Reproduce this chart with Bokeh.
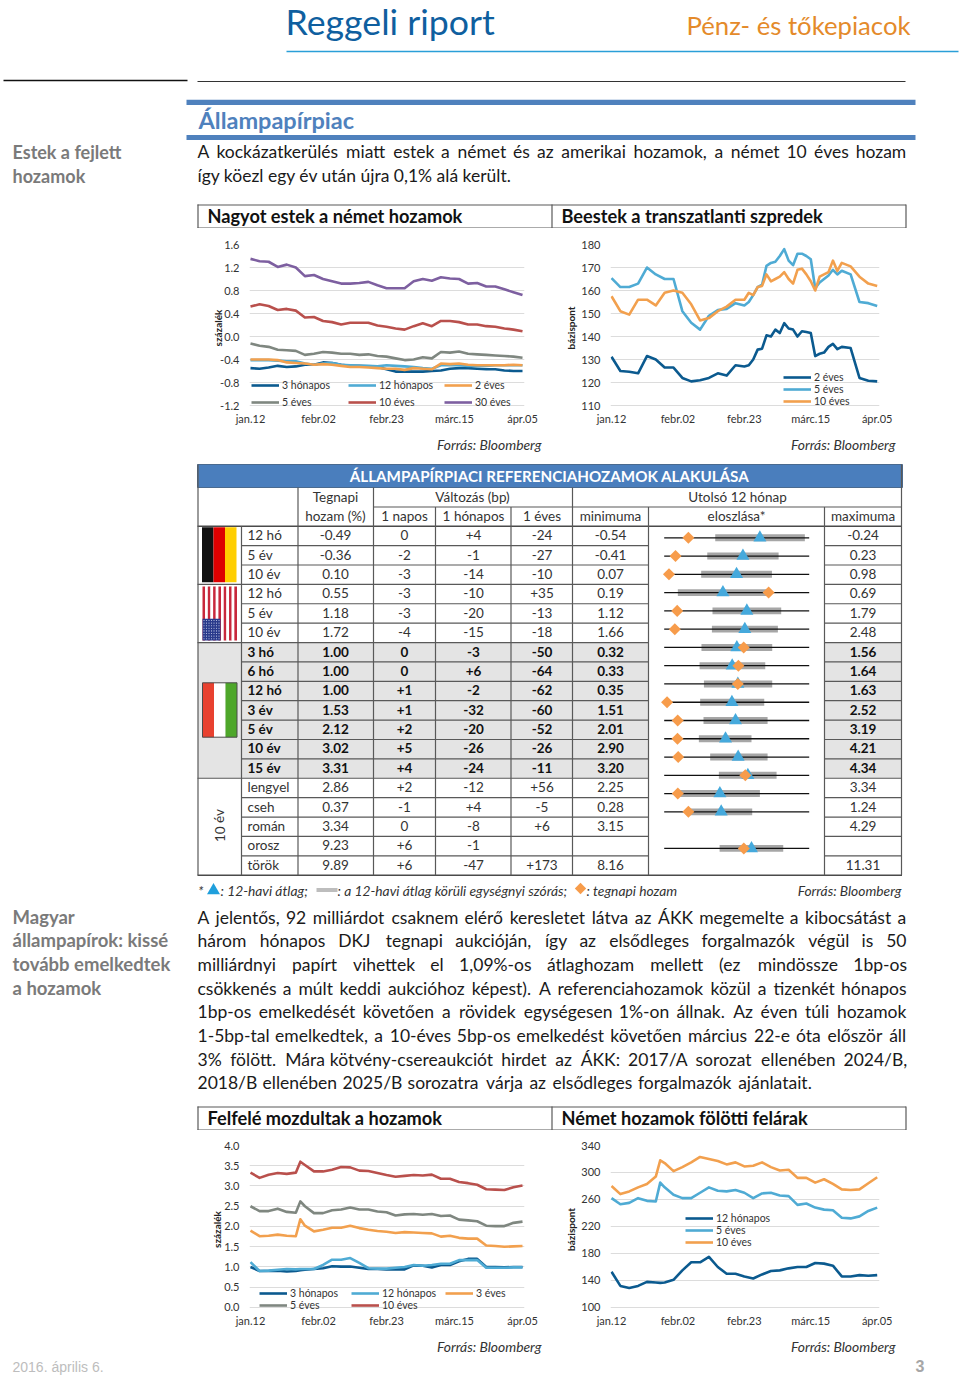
from bokeh.plotting import figure
from bokeh.models import (Range1d, FixedTicker, Legend, LegendItem, BoxAnnotation, Spacer)
from bokeh.layouts import column, row
from bokeh.core.properties import value
from bokeh.embed import file_html
from bokeh.resources import INLINE

FONT = "Lato"
X_TICKS = [0, 15, 30, 45, 60]
X_LABELS = ["jan.12", "febr.02", "febr.23", "márc.15", "ápr.05"]

# ------- chart data -------
DAYS_A = list(range(0, 61, 2))
DAYS_B = [0, 2, 4, 6, 8, 10, 11] + list(range(12, 61, 2))
DAYS_C = list(range(0, 29, 2)) + list(range(30, 53)) + [54, 56, 58, 60]

de_3m = [-.55,-.56,-.54,-.51,-.53,-.52,-.49,-.49,-.45,-.46,-.49,-.51,-.51,-.52,-.53,-.57,-.61,-.61,-.61,-.61,-.60,-.59,-.56,-.55,-.55,-.56,-.57,-.57,-.59,-.60,-.60]
de_12m = [-.41,-.41,-.41,-.42,-.43,-.43,-.47,-.49,-.47,-.46,-.49,-.50,-.51,-.51,-.52,-.50,-.51,-.52,-.53,-.55,-.56,-.50,-.50,-.50,-.51,-.51,-.51,-.50,-.50,-.50,-.50]
de_2y = [-.40,-.40,-.40,-.41,-.45,-.46,-.47,-.49,-.48,-.49,-.51,-.53,-.53,-.54,-.55,-.56,-.56,-.58,-.55,-.56,-.57,-.47,-.48,-.47,-.49,-.50,-.50,-.50,-.50,-.49,-.50]
de_5y = [-.12,-.16,-.18,-.23,-.24,-.25,-.32,-.30,-.27,-.28,-.30,-.30,-.32,-.31,-.34,-.35,-.38,-.41,-.40,-.36,-.38,-.27,-.28,-.26,-.30,-.31,-.32,-.33,-.34,-.35,-.37]
de_10y = [.52,.56,.53,.46,.48,.45,.33,.34,.27,.25,.21,.24,.24,.24,.19,.17,.14,.12,.18,.23,.18,.27,.27,.25,.21,.21,.18,.17,.14,.12,.09]
de_30y = [1.35,1.31,1.30,1.21,1.25,1.20,1.05,1.07,1.00,.96,.92,.92,.93,.95,.89,.84,.84,.84,.96,1.0,.97,1.03,1.01,1.0,.92,.93,.87,.87,.82,.77,.72]

sp_2y = [131.2,125,124.7,124,131.5,130,126.5,126.5,122,120.5,121,122,124,123,127.5,
         127,127.5,130,134.3,134.7,140.5,140,143,141.5,145.8,143.5,143,140,142.3,142,141.5,131.5,132.5,133,135.5,136.8,134.5,135.5,
         135,122,120.8,120.5]
sp_5y = [165.4,161.5,161.5,163,170,167,165,165,151,146,143,149,151.5,152,154.5,
         153.5,155,158,161.5,162.5,170.7,172,172.5,175,178,173,171,176,176,175,173.6,161,163.5,165,166.5,169,167,168.6,
         167,155,154.5,153.3]
sp_10y = [157.5,151,149.5,156,156,153.5,159,160,159,154,147,148,151,153,156,
          156,159,158,161.5,162,167,164,165,166,168,165,163,169,169.5,167,164,160,166,167,168,173,168.5,172,
          170.5,166,163,162]

hu_3m = [1.0,.90,.90,.91,.89,.90,.92,.93,.95,.97,1.02,1.01,1.01,.98,.95,.95,.94,.94,.94,1.04,1.03,.99,1.05,1.05,1.14,1.20,1.20,1.0,1.0,.99,1.0,1.0]
hu_12m = [1.12,.90,.91,.93,.95,.94,.95,.95,.95,1.05,1.18,1.18,1.22,1.10,.97,.96,.96,.98,1.0,1.05,1.03,1.05,1.08,1.08,1.17,1.17,1.17,.98,.98,.98,.99,.99]
hu_3y = [1.9,1.76,1.77,1.80,1.77,1.76,2.18,2.02,1.88,1.92,1.97,1.97,2.02,1.96,1.92,1.89,1.87,1.84,1.86,1.85,1.84,1.83,1.75,1.77,1.72,1.70,1.70,1.53,1.52,1.50,1.51,1.52]
hu_5y = [2.5,2.38,2.38,2.44,2.36,2.34,2.62,2.50,2.33,2.33,2.40,2.42,2.47,2.42,2.42,2.37,2.35,2.27,2.30,2.31,2.29,2.31,2.26,2.27,2.17,2.15,2.13,2.02,2.01,2.01,2.09,2.12]
hu_10y = [3.33,3.2,3.28,3.32,3.30,3.33,3.6,3.52,3.36,3.36,3.40,3.47,3.46,3.38,3.37,3.32,3.27,3.23,3.25,3.27,3.26,3.28,3.18,3.18,3.10,3.07,3.03,2.92,2.91,2.90,2.97,3.01]

pr_12m = [153,132,129,132,138,137,136.5,137,141,155,167,167,175,160,150,150,146,143,149,154,155,158,160,160,166,165,162,146,146,148,147,148]
pr_5y = [262,253,255,262,258,257,285,278,267,262,262,270,278,273,272,274,270,262,269,270,266,265,252,254,248,245,244,233,232,235,243,248]
pr_10y = [280,268,272,278,283,294,318,314,302,308,315,323,320,317,312,315,309,310,315,308,303,304,292,292,285,290,283,275,274,275,284,293]

C_DARK, C_LIGHT, C_ORANGE, C_GRAY, C_RED, C_PURPLE = "#0b5a8f", "#4fabd4", "#f2a04e", "#7f8780", "#b9504c", "#7d5fa0"

# ------- table data -------
table_labels = ["12 hó","5 év","10 év","12 hó","5 év","10 év","3 hó","6 hó","12 hó","3 év","5 év","10 év","15 év","lengyel","cseh","román","orosz","török"]
table_yield = [-0.49,-0.36,0.10,0.55,1.18,1.72,1.00,1.00,1.00,1.53,2.12,3.02,3.31,2.86,0.37,3.34,9.23,9.89]
table_1d = ["0","-2","-3","-3","-3","-4","0","0","+1","+1","+2","+5","+4","+2","-1","0","+6","+6"]
table_1m = ["+4","-1","-14","-10","-20","-15","-3","+6","-2","-32","-20","-26","-24","-12","+4","-8","-1","-47"]
table_1y = ["-24","-27","-10","+35","-13","-18","-50","-64","-62","-60","-52","-26","-11","+56","-5","+6","","+173"]
table_min = [-0.54,-0.41,0.07,0.19,1.12,1.66,0.32,0.33,0.35,1.51,2.01,2.90,3.20,2.25,0.28,3.15,None,8.16]
table_max = [-0.24,0.23,0.98,0.69,1.79,2.48,1.56,1.64,1.63,2.52,3.19,4.21,4.34,3.34,1.24,4.29,None,11.31]
# 12-month mean and mean +/- one st.dev, as shares of each row's min-max span
dist_low = [.352,.297,.255,.094,.333,.329,.257,.244,.274,.248,.271,.239,.317,.377,.090,.170,None,.382]
dist_high = [.970,.789,.743,.712,.807,.784,.745,.697,.745,.690,.713,.602,.713,.775,.660,.607,None,.821]
dist_mean = [.660,.543,.499,.405,.570,.556,.501,.469,.508,.467,.492,.423,.510,.577,.384,.393,None,.602]
BOLD_ROWS = range(6, 13)

intro_lines = ["A kockázatkerülés miatt estek a német és az amerikai hozamok, a német 10 éves hozam",
               "így köezl egy év után újra 0,1% alá került."]
body_lines = ["A jelentős, 92 milliárdot csaknem elérő keresletet látva az ÁKK megemelte a kibocsátást a",
              "három hónapos DKJ tegnapi aukcióján, így az elsődleges forgalmazók végül is 50",
              "milliárdnyi papírt vihettek el 1,09%-os átlaghozam mellett (ez mindössze 1bp-os",
              "csökkenés a múlt keddi aukcióhoz képest). A referenciahozamok közül a tizenkét hónapos",
              "1bp-os emelkedését követően a rövidek egységesen 1%-on állnak. Az éven túli hozamok",
              "1-5bp-tal emelkedtek, a 10-éves 5bp-os emelkedést követően március 22-e óta először áll",
              "3% fölött. Mára kötvény-csereaukciót hirdet az ÁKK: 2017/A sorozat ellenében 2024/B,",
              "2018/B ellenében 2025/B sorozatra várja az elsődleges forgalmazók ajánlatait."]

# ------- helpers -------
W_EM = dict(a=.51,b=.56,c=.47,d=.56,e=.52,f=.33,g=.50,h=.55,i=.24,j=.24,k=.50,l=.24,m=.82,n=.55,o=.57,p=.56,q=.56,r=.37,s=.43,t=.35,u=.55,v=.49,w=.74,x=.48,y=.49,z=.45)
def word_w(w, size):
    t = 0
    for ch in w:
        c = "aeiouo"["áéíóúő".index(ch)] if ch in "áéíóúő" else ("u" if ch in "üű" else ("o" if ch == "ö" else ch))
        if c in W_EM: t += W_EM[c]
        elif c.isdigit() or c == "/": t += .58 if c != "/" else .38
        elif c in ",.:": t += .24
        elif c in "-()": t += .34
        elif c == "%": t += .80
        else: t += .66
    return t * size

def page_fig(h, y0):
    p = figure(width=960, height=h, x_range=Range1d(0, 960), y_range=Range1d(y0 + h, y0), min_border=0,
               toolbar_location=None, output_backend="svg", x_axis_location=None, y_axis_location=None,
               outline_line_color=None)
    p.grid.visible = False
    p.background_fill_alpha = 0
    return p

def txt(p, x, y, s, size, color="#262626", align="left", bold=False, italic=False, font=FONT, angle=0):
    style = "bold italic" if bold and italic else "bold" if bold else "italic" if italic else "normal"
    p.text(x=[x], y=[y - 1], text=[s], text_font=value(font), text_font_size=f"{size}px", text_color=color,
           text_align=align, text_baseline="middle", text_font_style=style, angle=angle)

def just(p, line, y, left, right, size):
    words = line.split(" ")
    ws = [word_w(w, size) for w in words]
    gap = (right - left - sum(ws)) / (len(words) - 1)
    x = left
    for w, wd in zip(words, ws):
        txt(p, x, y, w, size, "#1a1a1a")
        x += wd + gap

def hl(p, x0, x1, y, c="#595959", w=1.2):
    p.segment(x0=[x0], x1=[x1], y0=[y], y1=[y], line_color=c, line_width=w)

def vl(p, x, y0, y1, c="#595959", w=1.2):
    p.segment(x0=[x], x1=[x], y0=[y0], y1=[y1], line_color=c, line_width=w)

def chart(w, h, left, right, top, bottom, xr, yr, ticks, ylabel, series, days, legends, boxleft, fmt, spacing, lab_off):
    p = figure(width=w, height=h, x_range=Range1d(*xr), y_range=Range1d(*yr),
               min_border_left=left, min_border_right=right, min_border_top=top, min_border_bottom=bottom,
               toolbar_location=None, output_backend="svg", outline_line_color=None)
    p.background_fill_alpha = 0
    p.xgrid.visible = False
    p.ygrid.grid_line_color = "#dcdcdc"
    p.ygrid.ticker = FixedTicker(ticks=ticks)
    p.yaxis.ticker = FixedTicker(ticks=ticks)
    p.yaxis.major_label_overrides = {t: fmt.format(t) for t in ticks}
    p.xaxis.ticker = FixedTicker(ticks=X_TICKS)
    p.xaxis.major_label_overrides = dict(zip(X_TICKS, X_LABELS))
    for ax in (p.xaxis[0], p.yaxis[0]):
        ax.axis_line_color = None
        ax.major_tick_line_color = None
        ax.minor_tick_line_color = None
        ax.major_tick_out = 0
        ax.minor_tick_out = 0
        ax.major_label_text_font = FONT
        ax.major_label_text_font_size = "11px"
        ax.major_label_text_color = "#333333"
    p.xaxis.major_label_standoff = 0
    p.yaxis.major_label_standoff = 10
    p.yaxis.axis_label = ylabel
    p.yaxis.axis_label_text_font = FONT
    p.yaxis.axis_label_text_font_size = "10px"
    p.yaxis.axis_label_text_font_style = "bold"
    p.yaxis.axis_label_text_color = "#222222"
    p.yaxis.axis_label_standoff = lab_off
    rs = {}
    for name, vals, col in series:
        rs[name] = p.line(days, vals, line_color=col, line_width=2.6, line_join="round")
    for names, loc in legends:
        lg = Legend(items=[LegendItem(label=n, renderers=[rs[n]]) for n in names], location=loc,
                    padding=0, margin=0, spacing=spacing, glyph_width=28, glyph_height=12, label_height=12,
                    label_standoff=3, label_text_font=FONT, label_text_font_size="10.5px",
                    label_text_color="#333333", border_line_color=None, background_fill_alpha=0)
        p.add_layout(lg, "center")
    p.add_layout(BoxAnnotation(left=boxleft, right=w - 0.5, top=0.5, bottom=h - 0.5, left_units="canvas",
                               right_units="canvas", top_units="canvas", bottom_units="canvas", fill_alpha=0,
                               line_color="#595959", line_width=1.2))
    return p

CH = 207
c1 = chart(355, CH, 52, 28, 16, 24, (-0.22, 60.44), (-1.304, 1.6), [-1.2,-.8,-.4,0,.4,.8,1.2,1.6], "százalék",
           [("30 éves", de_30y, C_PURPLE), ("10 éves", de_10y, C_RED), ("5 éves", de_5y, C_GRAY),
            ("3 hónapos", de_3m, C_DARK), ("12 hónapos", de_12m, C_LIGHT), ("2 éves", de_2y, C_ORANGE)], DAYS_A,
           [(["3 hónapos", "5 éves"], (2, 3)), (["12 hónapos", "10 éves"], (99, 3)), (["2 éves", "30 éves"], (195, 3))],
           0.5, "{:.1f}", 5, -7)
c2 = chart(354, CH, 58, 27, 16, 24, (-0.23, 60.52), (107.4, 180), list(range(110, 181, 10)), "bázispont",
           [("2 éves", sp_2y, C_DARK), ("5 éves", sp_5y, C_LIGHT), ("10 éves", sp_10y, C_ORANGE)], DAYS_C,
           [(["2 éves", "5 éves", "10 éves"], (173, 4))], -3, "{:.0f}", 0, 1)
c3 = chart(355, CH, 52, 28, 15, 24, (-0.22, 60.44), (-0.1485, 4), [0,.5,1,1.5,2,2.5,3,3.5,4], "százalék",
           [("10 éves", hu_10y, C_RED), ("5 éves", hu_5y, C_GRAY), ("3 éves", hu_3y, C_ORANGE),
            ("3 hónapos", hu_3m, C_DARK), ("12 hónapos", hu_12m, C_LIGHT)], DAYS_B,
           [(["3 hónapos", "5 éves"], (10, 2.4)), (["12 hónapos", "10 éves"], (102, 2.4)), (["3 éves"], (196, 14.4))],
           0.5, "{:.1f}", 0, -2)
c4 = chart(354, CH, 58, 27, 15, 24, (-0.23, 60.52), (91.1, 340), [100,140,180,220,260,300,340], "bázispont",
           [("10 éves", pr_10y, C_ORANGE), ("5 éves", pr_5y, C_LIGHT), ("12 hónapos", pr_12m, C_DARK)], DAYS_B,
           [(["12 hónapos", "5 éves", "10 éves"], (75, 65))], -3, "{:.0f}", 0, 1)

# ------- band A: header -------
A = page_fig(228, 0)
txt(A, 285, 21.5, "Reggeli riport", 35.7, "#0f5f9f")
txt(A, 910, 25, "Pénz- és tőkepiacok", 25.7, "#e48a2a", "right")
hl(A, 286, 958, 51, "#2a9fd8", 1.6)
hl(A, 3, 187, 80, "#111111", 1.6)
hl(A, 197, 905, 81, "#333333", 1)
A.quad(left=[186, 186], right=[915, 915], top=[99.3, 134.5], bottom=[104.6, 139.5], color="#4f81bd", line_width=0)
txt(A, 198, 120.5, "Állampapírpiac", 23.5, "#4f81bd", bold=True)
txt(A, 12, 152, "Estek a fejlett", 18, "#7a7a7a", bold=True)
txt(A, 12, 176, "hozamok", 18, "#7a7a7a", bold=True)
just(A, intro_lines[0], 152, 197, 906, 17.5)
txt(A, 197, 176, intro_lines[1], 17.5, "#1a1a1a")
hl(A, 197, 905.5, 204.5)
hl(A, 197, 905.5, 227.5)
for x in (197.5, 551.5, 905.5):
    vl(A, x, 204, 228)
txt(A, 207, 216.5, "Nagyot estek a német hozamok", 18.2, "#111111", bold=True)
txt(A, 561, 216.5, "Beestek a transzatlanti szpredek", 18.2, "#111111", bold=True)

# ------- band C: table and text -------
C = page_fig(695, 435)
txt(C, 541, 444.5, "Forrás: Bloomberg", 13.9, "#333333", "right", italic=True)
txt(C, 895, 444.5, "Forrás: Bloomberg", 13.9, "#333333", "right", italic=True)

R0, RH = 525.7, 19.39
Rn = len(table_labels)
COL = [197.5, 241, 297.5, 373, 435, 510.5, 572, 648, 824, 901]
TS = 13.5
C.quad(left=[197], right=[902], top=[464], bottom=[487], color="#4a7ebd", line_color="#4a6a8f", line_width=1)
txt(C, 549, 476.5, "ÁLLAMPAPÍRPIACI REFERENCIAHOZAMOK ALAKULÁSA", 15.2, "#ffffff", "center", bold=True)
gy0, gy1 = R0 + 6 * RH, R0 + 13 * RH
C.quad(left=[197.5, 824], right=[648, 901], top=[gy0, gy0], bottom=[gy1, gy1], color="#e4e4e4", line_width=0)
# flags
def flag(cols, x0, x1, y0, y1):
    step = (x1 - x0) / len(cols)
    for i, c in enumerate(cols):
        C.quad(left=[x0 + i * step], right=[x0 + (i + 1) * step], top=[y0], bottom=[y1], color=c, line_width=0)
flag(["#111111", "#dd0000", "#ffce00"], 201.5, 236, 526.7, 581.7)
flag(["#c8283c", "#ffffff"] * 6 + ["#c8283c"], 202, 236.5, 586, 640)
C.quad(left=[202], right=[220], top=[618.3], bottom=[640], color="#2a3a8c", line_width=0)
C.scatter(x=[203.5 + 2.5 * i for i in range(7) for j in range(8)], y=[620 + 2.6 * j for i in range(7) for j in range(8)],
          size=1.1, color="#c7cde8", line_width=0)
flag(["#e8412f", "#ffffff", "#4ea72a"], 202, 236.5, 682.3, 736.7)
C.quad(left=[202], right=[236.5], top=[682.3], bottom=[736.7], fill_color=None, line_color="#4a4a4a", line_width=1)

# header
txt(C, 335, 497.5, "Tegnapi", TS, "#333333", "center")
txt(C, 335, 516, "hozam (%)", TS, "#333333", "center")
txt(C, 472, 497.5, "Változás (bp)", TS, "#333333", "center")
txt(C, 737, 497.5, "Utolsó 12 hónap", TS, "#333333", "center")
for x, s in zip((404, 473, 541.5, 610, 736, 862.5), ("1 napos", "1 hónapos", "1 éves", "minimuma", "eloszlása*", "maximuma")):
    txt(C, x, 516.5, s, TS, "#333333", "center")
# grid
hl(C, 373, 901.5, 506.5)
hl(C, 197, 901.5, R0, "#4a4a4a", 1.4)
for r in range(1, Rn):
    y = R0 + r * RH
    hl(C, 241, 648, y)
    hl(C, 824, 901.5, y)
for y in (R0 + 3 * RH, gy0, gy1):
    hl(C, 197, 241, y)
hl(C, 197, 901.5, R0 + Rn * RH, "#4a4a4a", 1.4)
yb = R0 + Rn * RH
vl(C, COL[0], 464, yb); vl(C, COL[9], 464, yb)
vl(C, COL[1], R0, yb); vl(C, COL[2], 487, yb); vl(C, COL[3], 487, yb)
for x in (COL[4], COL[5]):
    vl(C, x, 506.5, yb)
vl(C, COL[6], 487, yb); vl(C, COL[7], 506.5, yb); vl(C, COL[8], 506.5, yb)
# rows
def cell(v):
    return "" if v is None else f"{v:.2f}"
for r in range(Rn):
    y = R0 + (r + .5) * RH + .3
    b = r in BOLD_ROWS
    c = "#111111" if b else "#333333"
    txt(C, 247, y, table_labels[r], TS, c, bold=b)
    for x, s in zip((335, 404, 473, 541.5, 610, 862.5),
                    (cell(table_yield[r]), table_1d[r], table_1m[r], table_1y[r], cell(table_min[r]), cell(table_max[r]))):
        if s:
            txt(C, x, y, s, TS, c, "center", bold=b)
txt(C, 219, 826, "10 év", TS, "#333333", "center", angle=1.5708)

# distribution column, on its own scales: share of the min-max span / table row
C.extra_x_ranges = {"share": Range1d((0 - 663.7) / 145, (960 - 663.7) / 145)}
C.extra_y_ranges = {"row": Range1d((1130 - 537.3) / 18.27, (435 - 537.3) / 18.27)}
rows_on = [r for r in range(Rn) if table_min[r] is not None]
kw = dict(x_range_name="share", y_range_name="row")
C.hbar(y=rows_on, left=[dist_low[r] for r in rows_on], right=[dist_high[r] for r in rows_on], height=.38,
       color="#a6a6a6", line_width=0, **kw)
C.segment(x0=[0] * len(rows_on), x1=[1] * len(rows_on), y0=rows_on, y1=rows_on, line_color="#111111", line_width=1.3, **kw)
C.scatter(x=[dist_mean[r] for r in rows_on], y=rows_on, marker="triangle", size=13, color="#45a9dc", line_width=0, **kw)
C.scatter(x=[(table_yield[r] - table_min[r]) / (table_max[r] - table_min[r]) for r in rows_on], y=rows_on, marker="square",
          angle=0.7854, size=8.5, color="#f79c4b", line_width=0, **kw)

# footnote
FS = 13.8
txt(C, 197.5, 890.5, "*", FS, "#333333", italic=True)
C.scatter(x=[213], y=[890], marker="triangle", size=13, color="#1f9fdc", line_width=0)
txt(C, 220, 890.5, ": 12-havi átlag;", FS, "#333333", italic=True)
C.quad(left=[316], right=[337], top=[887.5], bottom=[891.5], color="#bdbdbd", line_width=0)
txt(C, 337, 890.5, ": a 12-havi átlag körüli egységnyi szórás;", FS, "#333333", italic=True)
C.scatter(x=[580], y=[888], marker="square", angle=0.7854, size=8, color="#f79c4b", line_width=0)
txt(C, 586, 890.5, ": tegnapi hozam", FS, "#333333", italic=True)
txt(C, 901, 890.5, "Forrás: Bloomberg", FS, "#333333", "right", italic=True)

# side heads and body
for y, s in zip((917, 940, 964, 988), ("Magyar", "állampapírok: kissé", "tovább emelkedtek", "a hozamok")):
    txt(C, 12, y, s, 18.5, "#7a7a7a", bold=True)
BODY_Y = (917.5, 941, 965, 988.5, 1012, 1036, 1059.5, 1083)
for i, (y, s) in enumerate(zip(BODY_Y, body_lines)):
    just(C, s, y, 197, 906 if i < len(body_lines) - 1 else 812, 17.5)
hl(C, 197, 905.5, 1106.5)
hl(C, 197, 905.5, 1129.5)
for x in (197.5, 551.5, 905.5):
    vl(C, x, 1106, 1130)
txt(C, 207, 1118.5, "Felfelé mozdultak a hozamok", 18.2, "#111111", bold=True)
txt(C, 561, 1118.5, "Német hozamok fölötti felárak", 18.2, "#111111", bold=True)

# ------- band E: footer -------
E = page_fig(40, 1337)
txt(E, 541, 1347, "Forrás: Bloomberg", 13.9, "#333333", "right", italic=True)
txt(E, 895, 1347, "Forrás: Bloomberg", 13.9, "#333333", "right", italic=True)
txt(E, 12, 1367.5, "2016. április 6.", 14, "#bdbdbd", font="Liberation Sans")
txt(E, 915, 1366, "3", 16, "#a6a6a6", bold=True, font="Liberation Sans")

row1 = row(Spacer(width=197, height=CH), c1, c2, Spacer(width=54, height=CH), spacing=0)
row2 = row(Spacer(width=197, height=CH), c3, c4, Spacer(width=54, height=CH), spacing=0)
page = column(A, row1, C, row2, E, spacing=0)

open("out.html", "w").write(file_html(page, INLINE))
